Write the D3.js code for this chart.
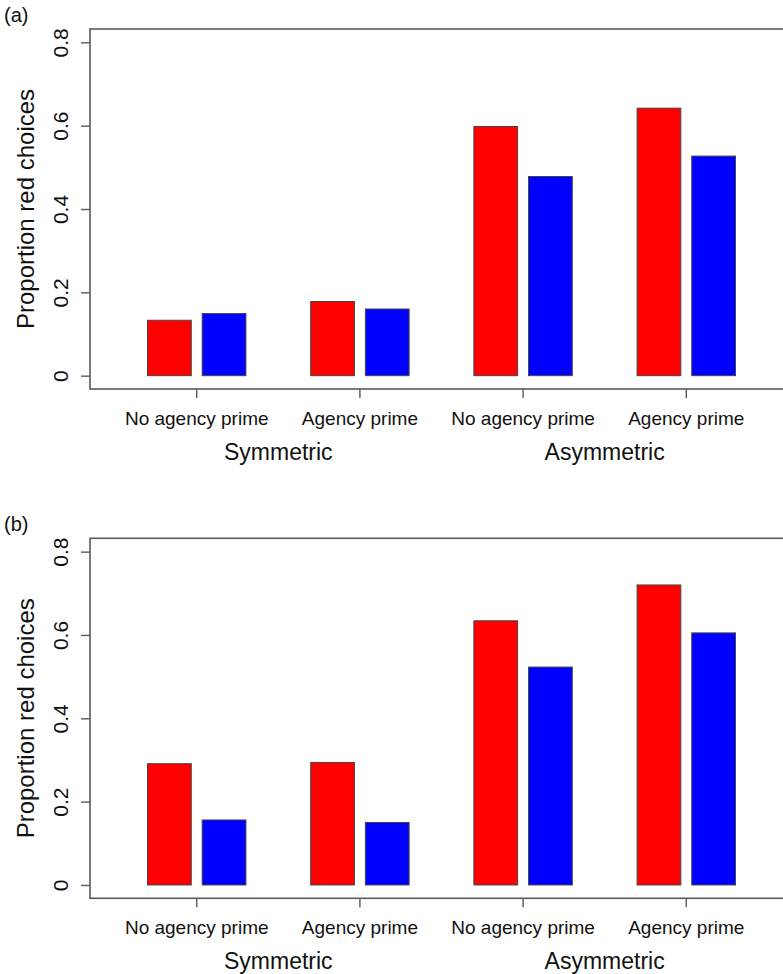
<!DOCTYPE html>
<html>
<head>
<meta charset="utf-8">
<script src="https://cdn.jsdelivr.net/npm/d3@7"></script>
<style>
  html, body { margin: 0; padding: 0; background: #fff; }
  svg { display: block; }
  text { font-family: "Liberation Sans", Arial, sans-serif; fill: #111; }
</style>
</head>
<body>
<div id="chart"></div>
<script>
// ---- data ----
const conditions = ["No agency prime", "Agency prime", "No agency prime ", "Agency prime "];
const conditionLabels = ["No agency prime", "Agency prime", "No agency prime", "Agency prime"];
const gameTypes = ["Symmetric", "Asymmetric"];
const seriesKeys = ["red", "blue"];
const panelLabels = ["(a)", "(b)"];
const yTicks = [0, 0.2, 0.4, 0.6, 0.8];
const panelA_red  = [0.133, 0.178, 0.598, 0.642];
const panelA_blue = [0.149, 0.160, 0.478, 0.527];
const panelB_red  = [0.291, 0.294, 0.634, 0.720];
const panelB_blue = [0.156, 0.150, 0.523, 0.605];
const yTitle = "Proportion red choices";

const panels = [
  { label: panelLabels[0], red: panelA_red, blue: panelA_blue, top: 29, bottom: 389 },
  { label: panelLabels[1], red: panelB_red, blue: panelB_blue, top: 538.3, bottom: 898.3 }
];

const W = 783, H = 974;
const boxLeft = 90, boxRight = 793;
const colors = { red: "#FF0000", blue: "#0000FF" };
const axisColor = "#5a5a5a";

const svg = d3.select("#chart").append("svg")
  .attr("width", W).attr("height", H);

const x0 = d3.scaleBand().domain(conditions)
  .range([boxLeft, boxRight]).paddingInner(0.397).paddingOuter(0.3525);
const x1 = d3.scaleBand().domain(seriesKeys)
  .range([0, x0.bandwidth()]).paddingInner(0.2).paddingOuter(0);

panels.forEach(p => {
  const g = svg.append("g");
  const y = d3.scaleLinear().domain([-0.032, 0.832]).range([p.bottom, p.top]);

  // panel label
  g.append("text").attr("x", 4).attr("y", p.top - 7)
    .attr("font-size", 20).text(p.label);

  // bars
  conditions.forEach((c, i) => {
    seriesKeys.forEach(k => {
      const v = p[k][i];
      g.append("rect")
        .attr("x", x0(c) + x1(k))
        .attr("y", y(v))
        .attr("width", x1.bandwidth())
        .attr("height", y(0) - y(v))
        .attr("fill", colors[k])
        .attr("stroke", "#444")
        .attr("stroke-width", 1);
    });
  });

  // box
  g.append("rect")
    .attr("x", boxLeft).attr("y", p.top)
    .attr("width", boxRight - boxLeft).attr("height", p.bottom - p.top)
    .attr("fill", "none").attr("stroke", axisColor).attr("stroke-width", 1.6);

  // y axis
  const ya = g.append("g").attr("transform", `translate(${boxLeft},0)`)
    .call(d3.axisLeft(y).tickValues(yTicks).tickSize(9)
      .tickFormat(d => d === 0 ? "0" : d3.format(".1f")(d)));
  ya.select(".domain").remove();
  ya.selectAll(".tick line").attr("stroke", axisColor).attr("stroke-width", 1.4);
  ya.selectAll(".tick text")
    .attr("font-size", 21)
    .attr("fill", "#111")
    .attr("x", null).attr("dy", null)
    .attr("text-anchor", "middle")
    .attr("transform", "translate(-30,0) rotate(-90)")
    .attr("dominant-baseline", "central");

  // y title
  g.append("text")
    .attr("transform", `translate(25,${(p.top + p.bottom) / 2}) rotate(-90)`)
    .attr("text-anchor", "middle")
    .attr("dominant-baseline", "central")
    .attr("font-size", 24)
    .text(yTitle);

  // x axis ticks and labels
  const xa = g.append("g").attr("transform", `translate(0,${p.bottom})`)
    .call(d3.axisBottom(x0).tickSize(9).tickFormat((d, i) => conditionLabels[i]));
  xa.select(".domain").remove();
  xa.selectAll(".tick line").attr("stroke", axisColor).attr("stroke-width", 1.4);
  xa.selectAll(".tick text")
    .attr("font-size", 19)
    .attr("fill", "#111")
    .attr("y", 29).attr("dy", null)
    .attr("dominant-baseline", "central");

  // game type labels
  gameTypes.forEach((gt, j) => {
    const a = conditions[2 * j], b = conditions[2 * j + 1];
    const cx = (x0(a) + x0(b) + x0.bandwidth()) / 2;
    g.append("text")
      .attr("x", cx).attr("y", p.bottom + 63)
      .attr("text-anchor", "middle")
      .attr("dominant-baseline", "central")
      .attr("font-size", 23)
      .text(gt);
  });
});
</script>
</body>
</html>
